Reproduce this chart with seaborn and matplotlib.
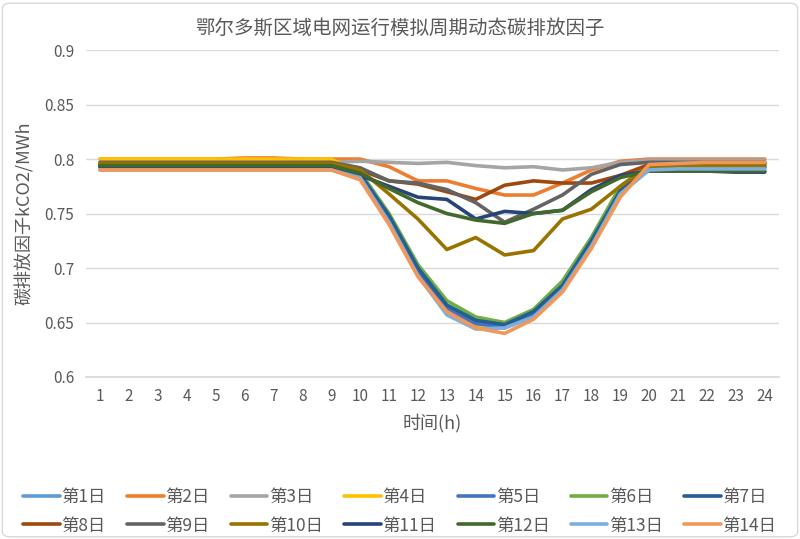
import numpy as np
import pandas as pd
import seaborn as sns
import matplotlib.pyplot as plt
from matplotlib.patches import FancyBboxPatch

sns.set_theme(style="white")
plt.rcParams['font.family'] = ['Noto Sans CJK SC', 'DejaVu Sans']

hours = list(range(1, 25))
days = ["第%d日" % i for i in range(1, 15)]
colors = ["#5B9BD5", "#ED7D31", "#A5A5A5", "#FFC000", "#4472C4", "#70AD47", "#255E91",
          "#9E480E", "#636363", "#997300", "#264478", "#43682B", "#7CAFDD", "#F1975A"]

# low-group days share the same shape around midday
d1 = [0.792]*9 + [0.785, 0.745, 0.697, 0.660, 0.647, 0.645, 0.657, 0.681, 0.721, 0.768, 0.792, 0.793, 0.793, 0.793, 0.793]
d2 = [0.800, 0.800, 0.800, 0.800, 0.800, 0.801, 0.801, 0.800, 0.800, 0.800, 0.793, 0.780, 0.780, 0.773, 0.767, 0.767, 0.778, 0.790, 0.798, 0.800, 0.800, 0.800, 0.800, 0.800]
d3 = [0.797]*9 + [0.798, 0.797, 0.796, 0.797, 0.794, 0.792, 0.793, 0.790, 0.792, 0.797, 0.799, 0.799, 0.799, 0.799, 0.799]
d4 = [0.800]*9 + [0.787, 0.748, 0.699, 0.663, 0.648, 0.646, 0.658, 0.683, 0.724, 0.770, 0.795, 0.796, 0.796, 0.796, 0.796]
d5 = [0.794]*9 + [0.786, 0.746, 0.698, 0.663, 0.649, 0.646, 0.658, 0.682, 0.722, 0.769, 0.793, 0.794, 0.794, 0.794, 0.794]
d6 = [0.796]*9 + [0.788, 0.750, 0.703, 0.670, 0.655, 0.650, 0.662, 0.688, 0.728, 0.775, 0.795, 0.796, 0.796, 0.796, 0.796]
d7 = [0.793]*9 + [0.786, 0.748, 0.700, 0.666, 0.652, 0.648, 0.660, 0.684, 0.725, 0.771, 0.792, 0.792, 0.792, 0.792, 0.792]
d8 = [0.795]*9 + [0.790, 0.780, 0.777, 0.770, 0.763, 0.776, 0.780, 0.778, 0.778, 0.785, 0.795, 0.796, 0.796, 0.796, 0.796]
d9 = [0.797]*9 + [0.792, 0.780, 0.778, 0.772, 0.760, 0.742, 0.754, 0.767, 0.786, 0.795, 0.797, 0.797, 0.797, 0.797, 0.797]
d10 = [0.796]*9 + [0.790, 0.768, 0.745, 0.717, 0.728, 0.712, 0.716, 0.745, 0.754, 0.775, 0.793, 0.794, 0.794, 0.794, 0.794]
d11 = [0.793]*9 + [0.785, 0.775, 0.765, 0.763, 0.745, 0.752, 0.750, 0.753, 0.772, 0.785, 0.789, 0.789, 0.789, 0.788, 0.788]
d12 = [0.794]*9 + [0.787, 0.773, 0.760, 0.750, 0.744, 0.741, 0.750, 0.753, 0.770, 0.783, 0.789, 0.789, 0.789, 0.789, 0.789]
d13 = [0.790]*9 + [0.783, 0.742, 0.693, 0.657, 0.644, 0.645, 0.655, 0.680, 0.720, 0.768, 0.790, 0.791, 0.791, 0.791, 0.791]
d14 = [0.790]*9 + [0.781, 0.740, 0.692, 0.660, 0.645, 0.640, 0.653, 0.678, 0.718, 0.765, 0.795, 0.796, 0.797, 0.797, 0.797]

series = [d1, d2, d3, d4, d5, d6, d7, d8, d9, d10, d11, d12, d13, d14]
df = pd.DataFrame([(h, days[i], v) for i, s in enumerate(series) for h, v in zip(hours, s)],
                  columns=["hour", "day", "value"])

fig = plt.figure(figsize=(8, 5.39), dpi=100)
ax = fig.add_axes([0.107, 0.3006, 0.867, 0.6064])
sns.lineplot(data=df, x="hour", y="value", hue="day", hue_order=days,
             palette=colors, linewidth=2.6, ax=ax, legend=True)

ax.set_xlim(0.5, 24.5)
ax.set_ylim(0.6, 0.9)
ax.set_xticks(hours)
ax.set_yticks(np.arange(0.6, 0.91, 0.05))
ax.set_yticklabels(["0.6", "0.65", "0.7", "0.75", "0.8", "0.85", "0.9"])
ax.tick_params(axis="both", labelsize=11, colors="#595959", length=0, pad=8)
ax.yaxis.grid(True, color="#D9D9D9", linewidth=1)
ax.set_axisbelow(True)
for s in ["top", "right", "left"]:
    ax.spines[s].set_visible(False)
ax.spines["bottom"].set_color("#D9D9D9")
ax.set_xlabel("时间(h)", fontsize=13, color="#595959", labelpad=6)
ax.set_ylabel("碳排放因子kCO2/MWh", fontsize=13, color="#595959", labelpad=8)
fig.text(0.5, 0.948, "鄂尔多斯区域电网运行模拟周期动态碳排放因子", ha="center", va="center",
         fontsize=14, color="#595959")

# legend filled row by row (matplotlib fills by column)
handles, labels = ax.get_legend_handles_labels()
ax.get_legend().remove()
order = [j for c in range(7) for j in (c, c + 7)]
fig.legend([handles[j] for j in order], [labels[j] for j in order],
           loc="upper center", bbox_to_anchor=(0.5, 0.117), ncol=7,
           frameon=False, fontsize=12.5, labelcolor="#595959", handlelength=2.1,
           handletextpad=0.1, columnspacing=1.22, labelspacing=0.6, borderpad=0.2)

fig.patches.append(FancyBboxPatch((0.003, 0.004), 0.994, 0.99, boxstyle="round,pad=0,rounding_size=0.01",
                                  transform=fig.transFigure, fill=False, edgecolor="#D9D9D9", linewidth=1))

fig.savefig("out.png", dpi=100)
